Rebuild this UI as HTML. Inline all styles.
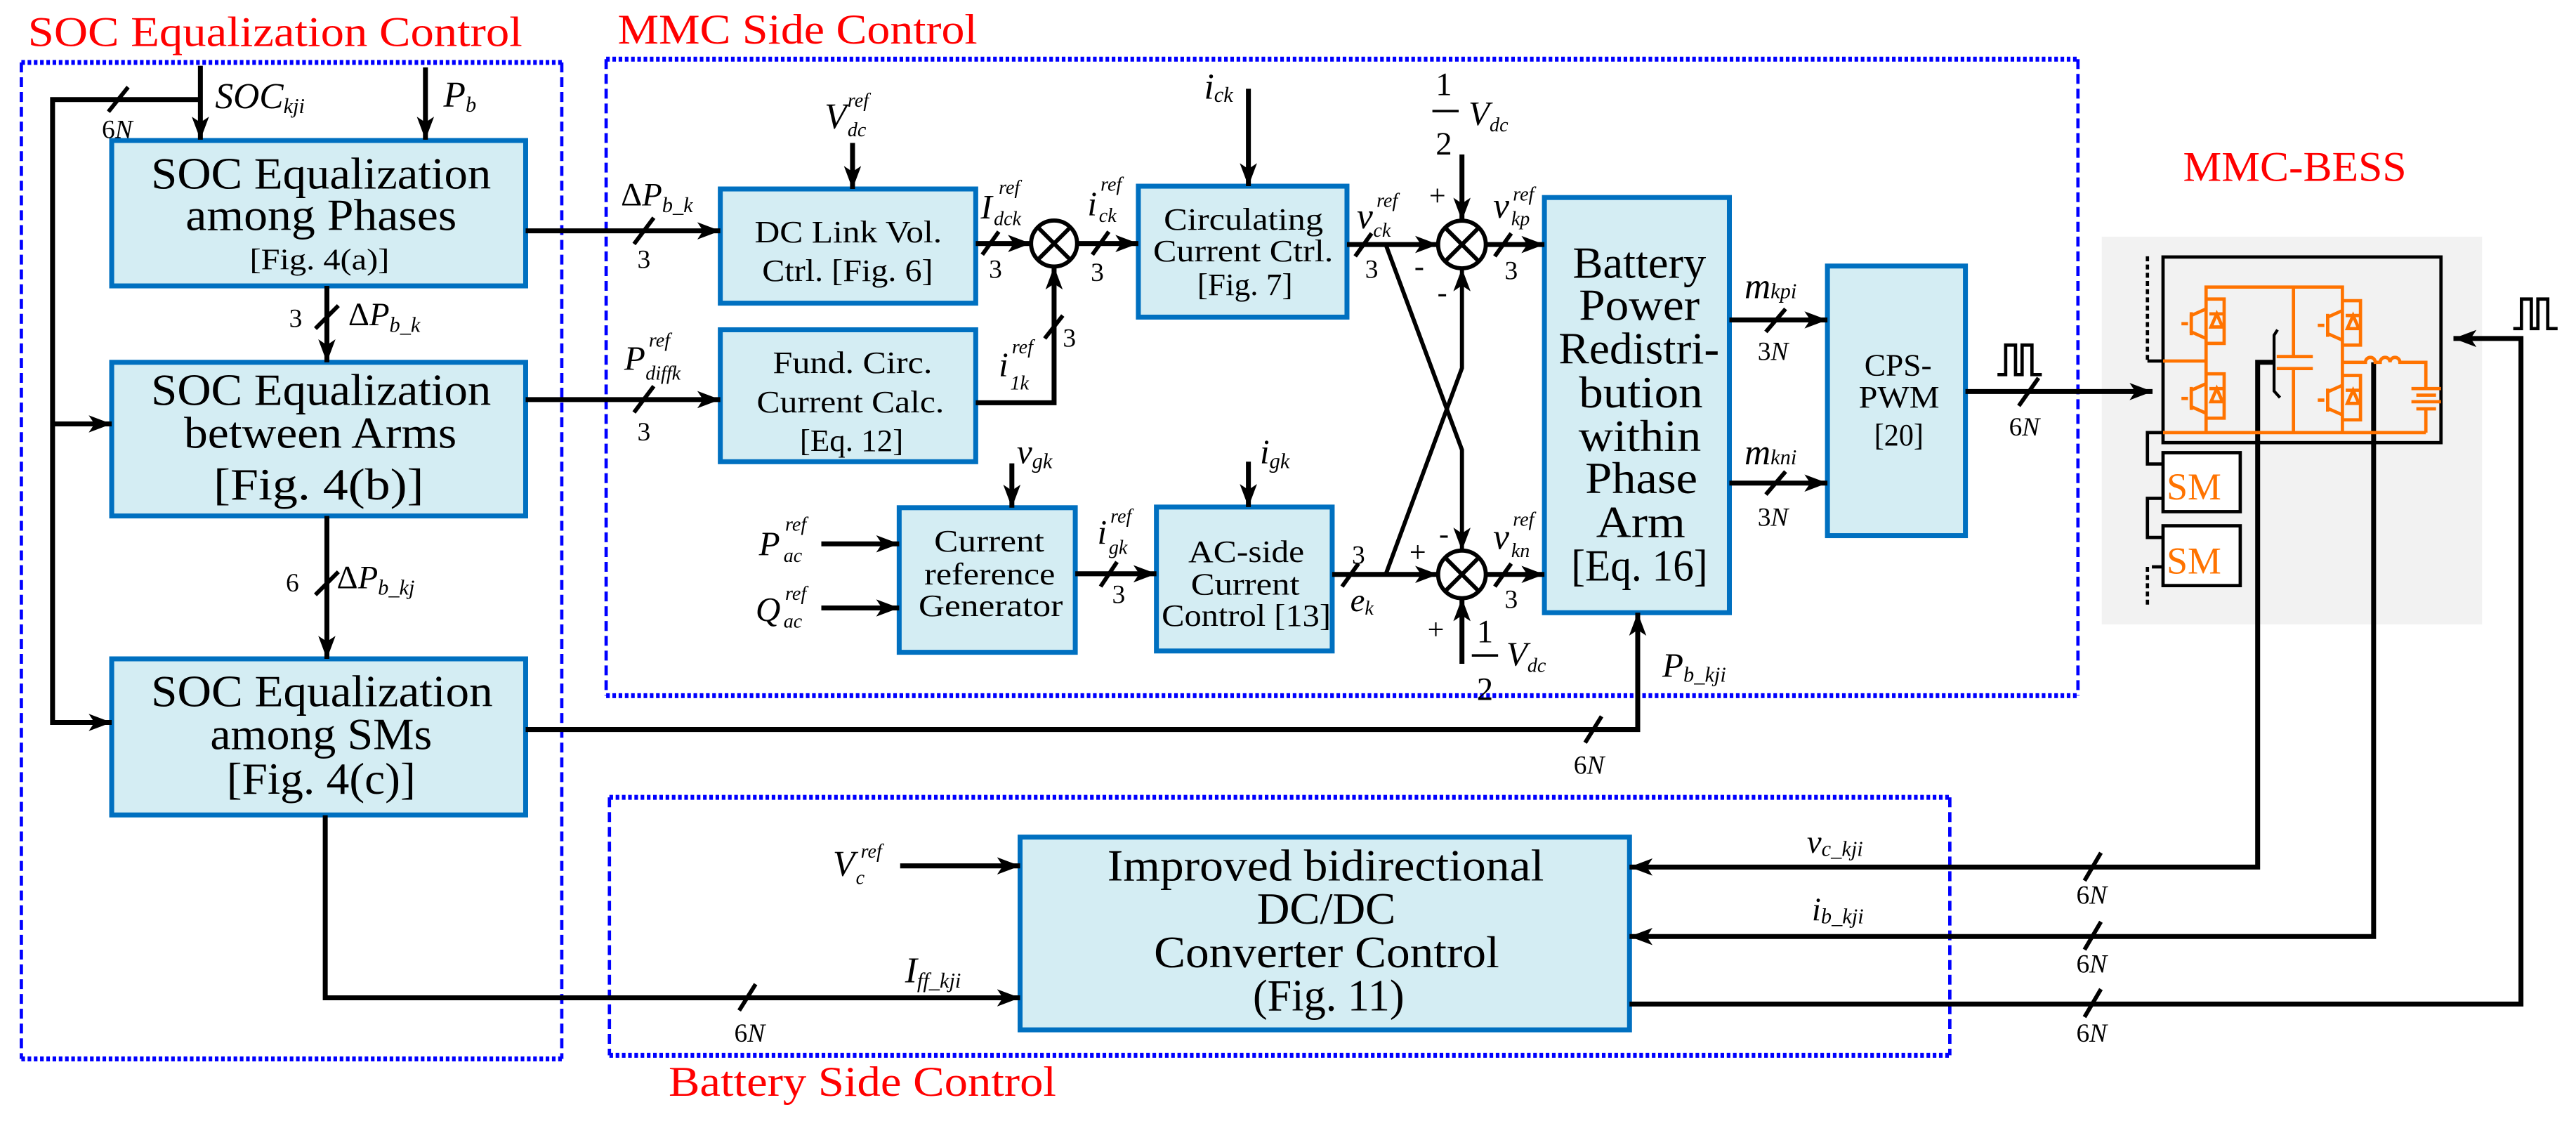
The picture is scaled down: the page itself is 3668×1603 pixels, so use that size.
<!DOCTYPE html>
<html><head><meta charset="utf-8">
<style>
html,body{margin:0;padding:0;background:#fff;}
svg{display:block;font-family:"Liberation Serif","DejaVu Serif","Times New Roman",serif;}
svg text{font-family:"Liberation Serif","DejaVu Serif","Times New Roman",serif;fill:#000;}
.i{font-style:italic;}
svg text.r{fill:#ff0000;}
svg text.o{fill:#ff7300;}
</style></head>
<body>
<svg width="3668" height="1603" viewBox="0 0 1568.2 685.3" xmlns="http://www.w3.org/2000/svg" font-family="Liberation Serif, DejaVu Serif, serif">
<defs>
<marker id="a" markerUnits="userSpaceOnUse" viewBox="0 0 16 12" markerWidth="14" markerHeight="11" refX="16" refY="6" orient="auto">
<path d="M0,0 L16,6 L0,12 L4,6 Z" fill="#000"/>
</marker>
</defs>

<!-- Titles -->
<text x="17" y="28" font-size="26" class="r" textLength="301" lengthAdjust="spacingAndGlyphs">SOC Equalization Control</text>
<text x="376" y="26.6" font-size="26" class="r" textLength="219" lengthAdjust="spacingAndGlyphs">MMC Side Control</text>
<text x="1329" y="110" font-size="26" class="r" textLength="136" lengthAdjust="spacingAndGlyphs">MMC-BESS</text>
<text x="407" y="667" font-size="26" class="r" textLength="236" lengthAdjust="spacingAndGlyphs">Battery Side Control</text>

<!-- Dashed regions -->
<g fill="none" stroke="#0000ff">
<g stroke-width="3" stroke-dasharray="2.2 1.6">
<line x1="13" y1="38" x2="342" y2="38"/><line x1="13" y1="644.5" x2="342" y2="644.5"/>
<line x1="369" y1="36" x2="1265" y2="36"/><line x1="369" y1="423.4" x2="1265" y2="423.4"/>
<line x1="371" y1="485.3" x2="1187" y2="485.3"/><line x1="371" y1="642.3" x2="1187" y2="642.3"/>
</g>
<g stroke-width="2" stroke-dasharray="6 3">
<line x1="13" y1="38" x2="13" y2="644.5"/><line x1="342" y1="38" x2="342" y2="644.5"/>
<line x1="369" y1="36" x2="369" y2="423.4"/><line x1="1265" y1="36" x2="1265" y2="423.4"/>
<line x1="371" y1="485.3" x2="371" y2="642.3"/><line x1="1187" y1="485.3" x2="1187" y2="642.3"/>
</g>
</g>

<!-- MMC-BESS panel -->
<rect x="1279.5" y="144" width="231.5" height="236" fill="#f2f2f2"/>

<!-- Blocks -->
<g fill="#d4edf3" stroke="#0070c0" stroke-width="3">
<rect x="68" y="85.5" width="252" height="88.5"/>
<rect x="68" y="220.5" width="252" height="93.5"/>
<rect x="68" y="401" width="252" height="95"/>
<rect x="438.5" y="115" width="155.5" height="69.5"/>
<rect x="438.5" y="200.7" width="155.5" height="80.3"/>
<rect x="693" y="113.3" width="127" height="79.7"/>
<rect x="547.4" y="309" width="107.2" height="88"/>
<rect x="704" y="308.6" width="107" height="87.6"/>
<rect x="940.2" y="120.2" width="112.6" height="252.7"/>
<rect x="1112.5" y="161.9" width="84" height="164.1"/>
<rect x="621" y="509.5" width="371" height="117.3"/>
</g>

<!-- Block texts -->
<g font-size="27">
<text x="92" y="114.7" textLength="207" lengthAdjust="spacingAndGlyphs">SOC Equalization</text>
<text x="113" y="140" textLength="165" lengthAdjust="spacingAndGlyphs">among Phases</text>
<text x="152" y="164" font-size="18" textLength="85" lengthAdjust="spacingAndGlyphs">[Fig.  4(a)]</text>
<text x="92" y="246.4" textLength="207" lengthAdjust="spacingAndGlyphs">SOC Equalization</text>
<text x="112" y="272.5" textLength="166" lengthAdjust="spacingAndGlyphs">between Arms</text>
<text x="130" y="304" textLength="128" lengthAdjust="spacingAndGlyphs">[Fig.  4(b)]</text>
<text x="92" y="429.8" textLength="208" lengthAdjust="spacingAndGlyphs">SOC Equalization</text>
<text x="128" y="456" textLength="135" lengthAdjust="spacingAndGlyphs">among SMs</text>
<text x="138" y="483" textLength="115" lengthAdjust="spacingAndGlyphs">[Fig.  4(c)]</text>
</g>
<g font-size="19">
<text x="459.4" y="147.5" textLength="114" lengthAdjust="spacingAndGlyphs">DC Link Vol.</text>
<text x="464" y="171" textLength="104" lengthAdjust="spacingAndGlyphs">Ctrl. [Fig. 6]</text>
<text x="470.5" y="227" textLength="97" lengthAdjust="spacingAndGlyphs">Fund. Circ.</text>
<text x="460.7" y="251" textLength="114" lengthAdjust="spacingAndGlyphs">Current Calc.</text>
<text x="486.9" y="274.4" textLength="63" lengthAdjust="spacingAndGlyphs">[Eq. 12]</text>
<text x="708.5" y="139.7" textLength="97" lengthAdjust="spacingAndGlyphs">Circulating</text>
<text x="702" y="159" textLength="109.6" lengthAdjust="spacingAndGlyphs">Current Ctrl.</text>
<text x="728.9" y="179.6" textLength="58" lengthAdjust="spacingAndGlyphs">[Fig. 7]</text>
<text x="568.7" y="335.6" textLength="67" lengthAdjust="spacingAndGlyphs">Current</text>
<text x="562.7" y="355.6" textLength="79.6" lengthAdjust="spacingAndGlyphs">reference</text>
<text x="559.2" y="374.9" textLength="87.8" lengthAdjust="spacingAndGlyphs">Generator</text>
<text x="723.4" y="342" textLength="70.6" lengthAdjust="spacingAndGlyphs">AC-side</text>
<text x="725" y="362" textLength="66.2" lengthAdjust="spacingAndGlyphs">Current</text>
<text x="707.2" y="381" textLength="103" lengthAdjust="spacingAndGlyphs">Control [13]</text>
<text x="1135" y="228.4" textLength="41" lengthAdjust="spacingAndGlyphs">CPS-</text>
<text x="1131.5" y="247.9" textLength="49.2" lengthAdjust="spacingAndGlyphs">PWM</text>
<text x="1141" y="271" textLength="30" lengthAdjust="spacingAndGlyphs">[20]</text>
</g>
<g font-size="27">
<text x="957.4" y="169" textLength="81.2" lengthAdjust="spacingAndGlyphs">Battery</text>
<text x="961.2" y="194.7" textLength="73.5" lengthAdjust="spacingAndGlyphs">Power</text>
<text x="948.8" y="221.3" textLength="97.9" lengthAdjust="spacingAndGlyphs">Redistri-</text>
<text x="961.2" y="247.9" textLength="75.4" lengthAdjust="spacingAndGlyphs">bution</text>
<text x="961" y="274.5" textLength="74.6" lengthAdjust="spacingAndGlyphs">within</text>
<text x="965" y="300.2" textLength="68.4" lengthAdjust="spacingAndGlyphs">Phase</text>
<text x="971.7" y="326.9" textLength="54.3" lengthAdjust="spacingAndGlyphs">Arm</text>
<text x="956.5" y="353.4" textLength="83.1" lengthAdjust="spacingAndGlyphs">[Eq. 16]</text>
<text x="674.1" y="535.9" textLength="265.8" lengthAdjust="spacingAndGlyphs">Improved bidirectional</text>
<text x="765.2" y="562.2" textLength="84.4" lengthAdjust="spacingAndGlyphs">DC/DC</text>
<text x="702.5" y="588.6" textLength="210.2" lengthAdjust="spacingAndGlyphs">Converter Control</text>
<text x="762.7" y="615" textLength="92.2" lengthAdjust="spacingAndGlyphs">(Fig. 11)</text>
</g>

<!-- Connectors -->
<g fill="none" stroke="#000" stroke-width="3">
<line x1="122" y1="40" x2="122" y2="85" marker-end="url(#a)"/>
<polyline points="122,60.6 32,60.6 32,439.7 68,439.7" marker-end="url(#a)"/>
<line x1="32" y1="258" x2="68" y2="258" marker-end="url(#a)"/>
<line x1="259" y1="41" x2="259" y2="85" marker-end="url(#a)"/>
<line x1="320" y1="140.5" x2="438.5" y2="140.5" marker-end="url(#a)"/>
<line x1="199" y1="174" x2="199" y2="220.5" marker-end="url(#a)"/>
<line x1="320" y1="243.2" x2="438.5" y2="243.2" marker-end="url(#a)"/>
<line x1="199" y1="314" x2="199" y2="401" marker-end="url(#a)"/>
<line x1="519" y1="87" x2="519" y2="115" marker-end="url(#a)"/>
<line x1="594" y1="148.2" x2="627.6" y2="148.2" marker-end="url(#a)"/>
<polyline points="594,245.1 641.7,245.1 641.7,162.2" marker-end="url(#a)"/>
<line x1="655.8" y1="148.2" x2="693" y2="148.2" marker-end="url(#a)"/>
<line x1="760" y1="54" x2="760" y2="113.3" marker-end="url(#a)"/>
<line x1="820" y1="148.8" x2="875.5" y2="148.8" marker-end="url(#a)"/>
<line x1="890" y1="94" x2="890" y2="134.3" marker-end="url(#a)"/>
<line x1="904.5" y1="148.8" x2="940.2" y2="148.8" marker-end="url(#a)"/>
<line x1="811" y1="349.6" x2="875.5" y2="349.6" marker-end="url(#a)"/>
<line x1="904.5" y1="349.6" x2="940.2" y2="349.6" marker-end="url(#a)"/>
<line x1="890" y1="404" x2="890" y2="364.1" marker-end="url(#a)"/>
<line x1="616" y1="282" x2="616" y2="309" marker-end="url(#a)"/>
<line x1="760" y1="281" x2="760" y2="308.6" marker-end="url(#a)"/>
<line x1="500" y1="331" x2="547.4" y2="331" marker-end="url(#a)"/>
<line x1="500" y1="370" x2="547.4" y2="370" marker-end="url(#a)"/>
<line x1="654.6" y1="349.2" x2="704" y2="349.2" marker-end="url(#a)"/>
<line x1="1052.8" y1="194.7" x2="1112.5" y2="194.7" marker-end="url(#a)"/>
<line x1="1052.8" y1="294" x2="1112.5" y2="294" marker-end="url(#a)"/>
<line x1="1196.5" y1="238.3" x2="1310.4" y2="238.3" marker-end="url(#a)"/>
<polyline points="320,444 997,444 997,372.9" marker-end="url(#a)"/>
<polyline points="198,496.2 198,607.3 621,607.3" marker-end="url(#a)"/>
<line x1="548" y1="527" x2="621" y2="527" marker-end="url(#a)"/>
<polyline points="1384.4,220.5 1374.4,220.5 1374.4,527.7 992,527.7" marker-end="url(#a)"/>
<polyline points="1445,220.5 1445,570 992,570" marker-end="url(#a)"/>
<polyline points="992,611.1 1534.7,611.1 1534.7,206 1493.6,206" marker-end="url(#a)"/>
</g>
<g fill="none" stroke="#000" stroke-width="2.5">
<polyline points="843.6,148.8 890,273.8 890,335.1" marker-end="url(#a)"/>
<polyline points="843.6,349.6 890,224 890,163.3" marker-end="url(#a)"/>
</g>
<g fill="#fff" stroke="#000" stroke-width="2.5">
<circle cx="641.7" cy="148.2" r="14"/>
<circle cx="890" cy="148.8" r="14.5"/>
<circle cx="890" cy="349.6" r="14.5"/>
</g>
<g stroke="#000" stroke-width="2.5">
<path d="M631.8,138.3 L651.6,158.1 M651.6,138.3 L631.8,158.1"/>
<path d="M879.7,138.5 L900.3,159.1 M900.3,138.5 L879.7,159.1"/>
<path d="M879.7,339.3 L900.3,359.9 M900.3,339.3 L879.7,359.9"/>
</g>

<!-- slashes -->
<g stroke="#000" stroke-width="2.5">
<line x1="66" y1="68" x2="78" y2="53"/>
<line x1="386" y1="148.5" x2="398" y2="132.5"/>
<line x1="192" y1="200" x2="206" y2="186"/>
<line x1="386" y1="251" x2="398" y2="235"/>
<line x1="192" y1="362" x2="206" y2="348"/>
<line x1="598" y1="155" x2="608" y2="141"/>
<line x1="636" y1="206" x2="647" y2="192"/>
<line x1="665" y1="155" x2="675" y2="141"/>
<line x1="825" y1="156" x2="835" y2="142"/>
<line x1="910" y1="156" x2="920" y2="142"/>
<line x1="817" y1="357" x2="827" y2="343"/>
<line x1="910" y1="357" x2="920" y2="343"/>
<line x1="670" y1="357" x2="680" y2="342"/>
<line x1="1075" y1="202" x2="1087" y2="188"/>
<line x1="1075" y1="301" x2="1087" y2="287"/>
<line x1="1229" y1="247" x2="1241" y2="230"/>
<line x1="965" y1="452" x2="975" y2="436"/>
<line x1="450" y1="615" x2="460" y2="599"/>
<line x1="1269" y1="536" x2="1279" y2="519"/>
<line x1="1269" y1="578" x2="1279" y2="561"/>
<line x1="1269" y1="619" x2="1279" y2="602"/>
</g>

<!-- Labels -->
<g font-size="16">
<text x="62" y="84">6<tspan class="i">N</tspan></text>
<text x="388" y="163">3</text>
<text x="176" y="199">3</text>
<text x="388" y="268">3</text>
<text x="174" y="360">6</text>
<text x="602" y="169">3</text>
<text x="647" y="211">3</text>
<text x="664" y="171">3</text>
<text x="831" y="169">3</text>
<text x="916" y="170">3</text>
<text x="823" y="343">3</text>
<text x="916" y="370">3</text>
<text x="677" y="367">3</text>
<text x="1070" y="219">3<tspan class="i">N</tspan></text>
<text x="1070" y="320">3<tspan class="i">N</tspan></text>
<text x="1223" y="265">6<tspan class="i">N</tspan></text>
<text x="958" y="471">6<tspan class="i">N</tspan></text>
<text x="447" y="634">6<tspan class="i">N</tspan></text>
<text x="1264" y="550">6<tspan class="i">N</tspan></text>
<text x="1264" y="592">6<tspan class="i">N</tspan></text>
<text x="1264" y="634">6<tspan class="i">N</tspan></text>
</g>
<g class="i" font-style="italic">
<text x="131" y="65.8" font-size="22">SOC<tspan font-size="13" dy="3">kji</tspan></text>
<text x="270" y="65" font-size="22">P<tspan font-size="13" dy="3">b</tspan></text>
<text x="378" y="125" font-size="20"><tspan font-style="normal">Δ</tspan>P<tspan font-size="13" dy="4">b_k</tspan></text>
<text x="212" y="198" font-size="20"><tspan font-style="normal">Δ</tspan>P<tspan font-size="13" dy="4">b_k</tspan></text>
<text x="205" y="358" font-size="20"><tspan font-style="normal">Δ</tspan>P<tspan font-size="13" dy="4">b_kj</tspan></text>
<text x="380" y="225" font-size="21">P</text><text x="395" y="211" font-size="12">ref</text><text x="393" y="231" font-size="12">diffk</text>
<text x="502" y="78" font-size="22">V</text><text x="516" y="65" font-size="12">ref</text><text x="516" y="83" font-size="12">dc</text>
<text x="597" y="133" font-size="21">I</text><text x="608" y="118" font-size="12">ref</text><text x="605" y="137" font-size="12">dck</text>
<text x="662" y="131" font-size="21">i</text><text x="670" y="116" font-size="12">ref</text><text x="669" y="135" font-size="12">ck</text>
<text x="608" y="229" font-size="21">i</text><text x="616" y="215" font-size="12">ref</text><text x="615" y="237" font-size="12">1k</text>
<text x="733" y="60" font-size="22">i<tspan font-size="13" dy="2">ck</tspan></text>
<text x="826" y="139" font-size="22">v</text><text x="838" y="126" font-size="12">ref</text><text x="836" y="144" font-size="12">ck</text>
<text x="909" y="132.5" font-size="22">v</text><text x="921" y="122" font-size="12">ref</text><text x="920" y="137" font-size="12">kp</text>
<text x="909" y="334" font-size="22">v</text><text x="921" y="320" font-size="12">ref</text><text x="920" y="339" font-size="12">kn</text>
<text x="822" y="372" font-size="20">e<tspan font-size="12" dy="2">k</tspan></text>
<text x="619" y="282" font-size="21">v<tspan font-size="13" dy="3">gk</tspan></text>
<text x="767" y="282" font-size="21">i<tspan font-size="13" dy="3">gk</tspan></text>
<text x="668" y="331" font-size="21">i</text><text x="676" y="318" font-size="12">ref</text><text x="675" y="337" font-size="12">gk</text>
<text x="462" y="338" font-size="21">P</text><text x="478" y="323" font-size="12">ref</text><text x="477" y="342" font-size="12">ac</text>
<text x="460" y="378" font-size="21">Q</text><text x="478" y="365" font-size="12">ref</text><text x="477" y="382" font-size="12">ac</text>
<text x="1062" y="181.4" font-size="22">m<tspan font-size="13">kpi</tspan></text>
<text x="1062" y="282.5" font-size="22">m<tspan font-size="13">kni</tspan></text>
<text x="1012" y="412" font-size="21">P<tspan font-size="13" dy="3">b_kji</tspan></text>
<text x="551" y="598" font-size="22">I<tspan font-size="13" dy="3">ff_kji</tspan></text>
<text x="507" y="533" font-size="22">V</text><text x="524" y="522" font-size="12">ref</text><text x="521" y="538" font-size="12">c</text>
<text x="1100" y="519" font-size="20">v<tspan font-size="13" dy="2">c_kji</tspan></text>
<text x="1103" y="560" font-size="20">i<tspan font-size="13" dy="2">b_kji</tspan></text>
<text x="894" y="76" font-size="21">V<tspan font-size="12" dy="4">dc</tspan></text>
<text x="917" y="405" font-size="21">V<tspan font-size="12" dy="4">dc</tspan></text>
</g>
<g font-size="20">
<text x="874" y="58">1</text><text x="874" y="94">2</text>
<text x="899" y="391">1</text><text x="899" y="426">2</text>
<text x="870" y="125" font-size="18">+</text>
<text x="861" y="168" font-size="18">-</text>
<text x="875" y="184" font-size="18">-</text>
<text x="858" y="342" font-size="18">+</text>
<text x="876" y="331" font-size="18">-</text>
<text x="869" y="389" font-size="18">+</text>
</g>
<line x1="872" y1="67.6" x2="888" y2="67.6" stroke="#000" stroke-width="1.5"/>
<line x1="896" y1="398.9" x2="912" y2="398.9" stroke="#000" stroke-width="1.5"/>

<!-- pulses -->
<g fill="none" stroke="#000" stroke-width="2">
<polyline points="1216,228 1221,228 1221,210 1227,210 1227,228 1231,228 1231,210 1237,210 1237,228 1243,228"/>
<polyline points="1530,200 1535,200 1535,182 1541,182 1541,200 1545,200 1545,182 1551,182 1551,200 1557,200"/>
</g>

<!-- Circuit -->
<rect x="1316.8" y="156.4" width="169.2" height="113" fill="none" stroke="#000" stroke-width="2"/>
<g fill="none" stroke="#ff7300" stroke-width="2">
<polyline points="1343,263.3 1343,174.7 1426,174.7 1426,263.3"/>
<line x1="1316.8" y1="263.3" x2="1476.8" y2="263.3"/>
<line x1="1316.8" y1="219.7" x2="1343" y2="219.7"/>
<line x1="1396.2" y1="174.7" x2="1396.2" y2="217"/>
<line x1="1396.2" y1="224.3" x2="1396.2" y2="263.3"/>
<line x1="1386" y1="217" x2="1408" y2="217"/>
<line x1="1386" y1="224.3" x2="1408" y2="224.3"/>
<path d="M1426,220.5 H1440 a3,3 0 0 1 6,0 h3 a3,3 0 0 1 6,0 a3,3 0 0 1 6,0 h2 H1476.8 V236.5"/>
<line x1="1468" y1="236.5" x2="1486" y2="236.5"/>
<line x1="1471" y1="240.5" x2="1483" y2="240.5"/>
<line x1="1468" y1="244.5" x2="1486" y2="244.5"/>
<line x1="1471" y1="248.8" x2="1483" y2="248.8"/>
<line x1="1476.8" y1="248.8" x2="1476.8" y2="263.3"/>
<g id="sw">
<path d="M1343,182 H1354 V209 H1343"/>
<path d="M1349.5,191 L1346,199 H1353 Z M1345,191 H1354"/>
<path d="M1343,188 L1334,192 V202 L1343,206"/>
<line x1="1334" y1="190" x2="1334" y2="204"/>
<line x1="1328" y1="197" x2="1332" y2="197"/>
</g>
<use href="#sw" y="45.5"/>
<use href="#sw" x="83" y="1"/>
<use href="#sw" x="83" y="46.5"/>
</g>
<path d="M1386.5,200.7 L1384.4,204 V238 L1388,242" fill="none" stroke="#000" stroke-width="1.8"/>
<rect x="1316.8" y="275.5" width="47" height="35.9" fill="#fff" stroke="#000" stroke-width="2"/>
<rect x="1316.8" y="320" width="47" height="36.4" fill="#fff" stroke="#000" stroke-width="2"/>
<text x="1319" y="304" font-size="23" class="o">SM</text>
<text x="1319" y="349" font-size="23" class="o">SM</text>
<g fill="none" stroke="#000" stroke-width="2">
<polyline points="1316.8,263.3 1307.3,263.3 1307.3,282.4 1316.8,282.4"/>
<polyline points="1316.8,303.3 1307.3,303.3 1307.3,327.1 1316.8,327.1"/>
<polyline points="1307.3,219.7 1316.8,219.7"/>
<line x1="1307.3" y1="156" x2="1307.3" y2="219.7" stroke-dasharray="3 2"/>
<line x1="1307.3" y1="345" x2="1307.3" y2="370" stroke-dasharray="3 2"/>
<line x1="1310" y1="345" x2="1316.8" y2="345"/>
</g>
</svg>
</body></html>
